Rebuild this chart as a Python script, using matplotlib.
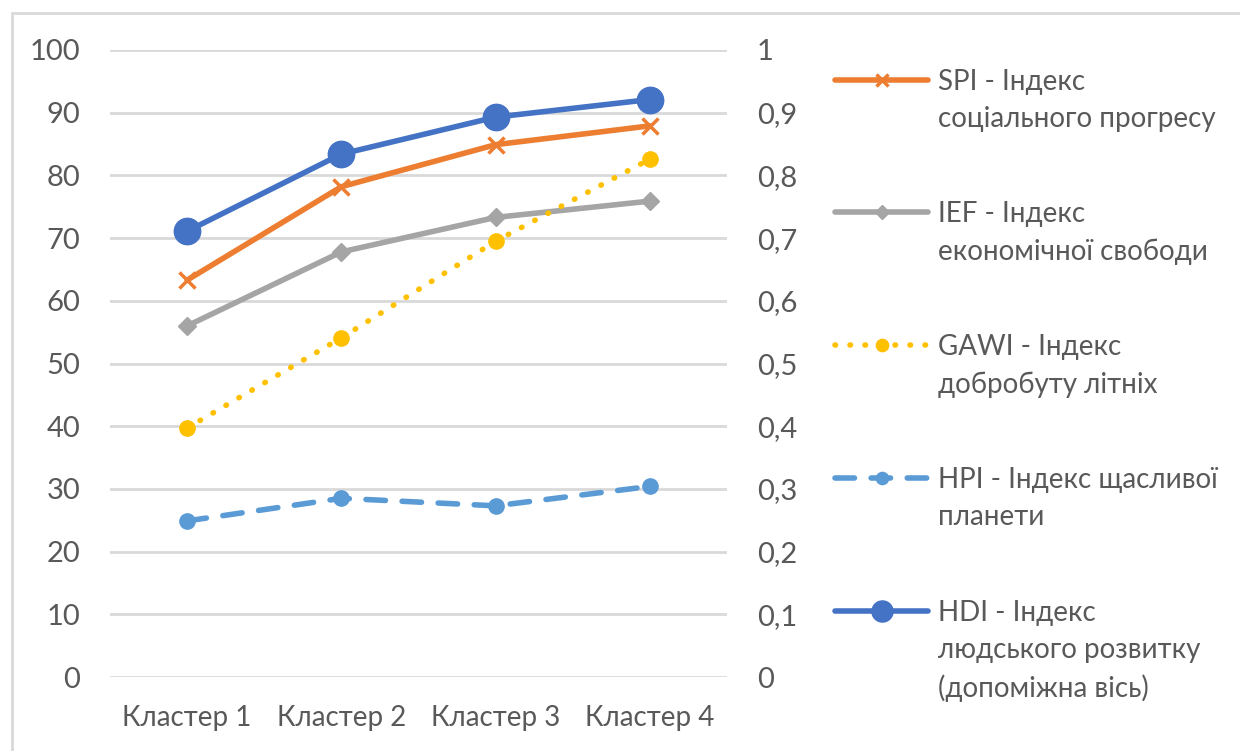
import matplotlib.pyplot as plt
from matplotlib.patches import Rectangle

plt.rcParams['font.family'] = ['Lato', 'DejaVu Sans']

clusters = ['Кластер 1', 'Кластер 2', 'Кластер 3', 'Кластер 4']
spi = [63.3, 78.2, 84.9, 87.9]
ief = [56.0, 67.8, 73.3, 75.9]
gawi = [39.7, 54.1, 69.5, 82.6]
hpi = [24.9, 28.5, 27.3, 30.4]
hdi = [0.711, 0.834, 0.893, 0.921]

left_ticks = list(range(0, 101, 10))
right_ticks = [i / 10 for i in range(11)]
right_labels = ['0', '0,1', '0,2', '0,3', '0,4', '0,5', '0,6', '0,7', '0,8', '0,9', '1']

labels = ['SPI - Індекс\nсоціального прогресу',
          'IEF - Індекс\nекономічної свободи',
          'GAWI - Індекс\nдобробуту літніх',
          'HPI - Індекс щасливої\nпланети',
          'HDI - Індекс\nлюдського розвитку\n(допоміжна вісь)']

tick_col = '#595959'
x = list(range(len(clusters)))

fig = plt.figure(figsize=(12.4, 7.51), dpi=100)
fig.patches.append(Rectangle((12 / 1240, -0.1), 1.2, 1 - 13 / 751 + 0.1,
                             transform=fig.transFigure, fill=False,
                             edgecolor='#d9d9d9', linewidth=2))
ax = fig.add_axes([110 / 1240, 1 - 677 / 751, 617 / 1240, 627 / 751])
ax2 = ax.twinx()

l1, = ax.plot(x, spi, color='#ED7D31', lw=4, marker='x', ms=11, mew=2.5,
              solid_capstyle='round', label=labels[0])
l2, = ax.plot(x, ief, color='#A5A5A5', lw=4, marker='D', ms=9,
              solid_capstyle='round', label=labels[1])
l3, = ax.plot(x, gawi, color='#FFC000', lw=4, ls=(0, (0.1, 2.6)), marker='o', ms=11,
              dash_capstyle='round', label=labels[2])
l4, = ax.plot(x, hpi, color='#5B9BD5', lw=4, ls=(0, (3.5, 3.0)), marker='o', ms=11,
              dash_capstyle='round', label=labels[3])
l5, = ax2.plot(x, hdi, color='#4472C4', lw=4, marker='o', ms=19,
               solid_capstyle='round', label=labels[4])

ax.set_xlim(-0.5, 3.5)
ax.set_ylim(0, 100)
ax2.set_ylim(0, 1)
ax.set_yticks(left_ticks)
ax2.set_yticks(right_ticks)
ax2.set_yticklabels(right_labels)
ax.set_xticks(x)
ax.set_xticklabels(clusters)
ax.grid(axis='y', color='#d9d9d9', lw=2)
ax.set_axisbelow(True)
for a in (ax, ax2):
    for s in a.spines.values():
        s.set_visible(False)
ax.tick_params(axis='y', length=0, pad=21.5, labelsize=21, labelcolor=tick_col)
ax2.tick_params(axis='y', length=0, pad=21.5, labelsize=21, labelcolor=tick_col)
ax.tick_params(axis='x', length=0, pad=20, labelsize=20, labelcolor=tick_col)

leg = fig.legend(handles=[l1, l2, l3, l4, l5], loc='upper left',
                 bbox_to_anchor=(824 / 1240, 1 - 58 / 751), frameon=False,
                 fontsize=20, handlelength=3.35, handletextpad=0.36,
                 labelspacing=2.5, handleheight=1.0, borderaxespad=0,
                 markerscale=0.8)
for t in leg.get_texts():
    t.set_color(tick_col)
    t.set_linespacing(1.52)
for col in leg._legend_handle_box.get_children():
    for row in col.get_children():
        row.align = 'top'

fig.savefig('out.png', dpi=100)
